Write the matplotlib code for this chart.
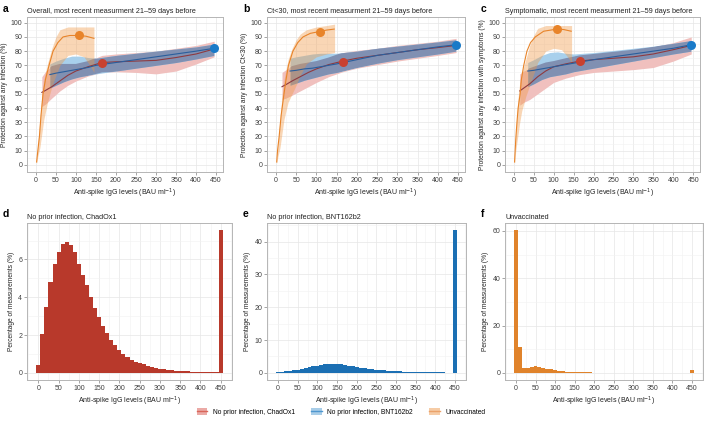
import numpy as np
import matplotlib.pyplot as plt
from matplotlib.patches import Patch
from matplotlib.lines import Line2D
from matplotlib.ticker import MultipleLocator

plt.rcParams['font.family'] = ['Liberation Sans', 'DejaVu Sans']

W, H = 705, 425

# ---- top panels: protection curves (x = anti-spike IgG, y = protection %) ----
# a: overall
a_or_x = [2, 5, 9, 13, 18, 24, 33, 43, 55, 68, 85, 106, 125, 145]
a_or_y = [2, 10, 20, 35, 50, 60, 70, 80, 86, 90, 91, 91, 90.5, 89]
a_orb_x = [2, 5, 10, 15, 20, 30, 40, 50, 60, 80, 100, 120, 135, 145]
a_orb_hi = [3, 14, 32, 48, 60, 72, 82, 90, 95, 97, 97, 97, 97, 97]
a_orb_lo = [1, 6, 12, 22, 32, 45, 55, 63, 70, 77, 78, 76, 70, 65]
a_rd_x = [15, 25, 40, 60, 80, 100, 130, 165, 200, 250, 300, 350, 400, 445]
a_rd_y = [51, 52.5, 55, 59, 63, 66, 69, 72, 72.5, 73, 73.5, 75.5, 78, 81.5]
a_rd_hi = [62, 66, 69.5, 71, 71, 71, 73, 77, 78, 79, 80, 82, 84, 87]
a_rd_lo = [41, 43, 47, 52, 56, 59, 62.5, 65, 65.5, 65, 64, 66, 71, 76]
a_bl_x = [35, 50, 70, 90, 110, 130, 150, 200, 250, 300, 350, 400, 445]
a_bl_y = [63.5, 64.5, 65.5, 66.5, 67.5, 68.5, 70, 72, 74, 76, 78, 80, 82]
a_bl_hi = [71, 73, 75, 76.5, 76.5, 75.5, 75, 77, 78.5, 80, 81.5, 83, 85]
a_bl_lo = [54, 56, 58.5, 60.5, 62, 63, 64, 66, 68, 70, 72, 74.5, 77]
a_dots = [(108, 91), (165, 72), (445, 82)]

# b: Ct<30
b_or_x = [2, 4, 8, 13, 20, 25, 31, 42, 54, 67, 85, 108, 125, 144]
b_or_y = [2, 10, 20, 35, 50, 60, 70, 80, 86, 90, 92.5, 93.8, 94.8, 95.5]
b_orb_x = [2, 5, 10, 15, 20, 30, 40, 50, 60, 75, 100, 125, 145]
b_orb_hi = [3, 14, 32, 48, 60, 74, 82, 88, 92, 95, 97, 98, 99]
b_orb_lo = [1, 6, 12, 22, 32, 44, 50, 56, 63, 71, 76, 78, 79]
b_rd_x = [15, 25, 40, 60, 80, 100, 130, 165, 200, 250, 300, 350, 400, 445]
b_rd_y = [55, 56.5, 59, 62, 65, 67.5, 70.5, 73, 75, 77, 79, 81, 82.5, 84]
b_rd_hi = [65, 67, 69.5, 71, 72, 73, 75.5, 79, 80.5, 82, 84, 85.5, 87, 89]
b_rd_lo = [46, 47, 49, 52, 55, 58, 62, 65.5, 68, 70.5, 73, 75, 77, 79]
b_bl_x = [35, 50, 70, 90, 110, 130, 150, 200, 250, 300, 350, 400, 445]
b_bl_y = [66, 66.5, 67.5, 68, 69, 70, 71, 74, 77, 79, 81, 83, 84.5]
b_bl_hi = [75, 76, 77, 78, 78.5, 78.5, 78.5, 80, 82, 83.5, 85, 86.5, 88]
b_bl_lo = [56, 57.5, 59.5, 61, 62.5, 64, 65, 68.5, 71.5, 74, 76, 78, 80]
b_dots = [(108, 93.8), (165, 72.7), (445, 84.5)]

# c: symptomatic
c_or_x = [2, 5, 8, 11, 16, 19, 25, 33, 42, 54, 75, 108, 125, 144]
c_or_y = [2, 18, 30, 40, 50, 60, 70, 80, 86, 90, 94, 95.5, 95.2, 94]
c_orb_x = [2, 5, 10, 15, 20, 30, 40, 50, 60, 80, 100, 120, 135, 145]
c_orb_hi = [3, 22, 45, 58, 64, 74, 84, 91, 96, 98, 98, 98, 98, 98]
c_orb_lo = [1, 10, 20, 30, 38, 48, 56, 64, 72, 80, 82, 81, 76, 72]
c_rd_x = [15, 25, 40, 60, 80, 100, 130, 165, 200, 250, 300, 350, 400, 445]
c_rd_y = [52, 54, 57, 62, 66, 69, 71, 73, 74, 75, 76, 78, 81, 84]
c_rd_hi = [64, 66, 68, 70, 72, 73, 75, 77, 78, 79.5, 81, 83, 86, 90]
c_rd_lo = [42, 44, 46, 50, 54, 58, 61, 63.5, 65, 66, 67, 68.5, 73, 78]
c_bl_x = [35, 50, 70, 90, 110, 130, 150, 200, 250, 300, 350, 400, 445]
c_bl_y = [66, 66.5, 67.5, 68.5, 69.5, 70.5, 71.5, 74, 76, 78, 80, 82, 84.5]
c_bl_hi = [72, 74, 77, 79, 79.5, 78.5, 78, 79, 80.5, 82, 83.5, 85.5, 87.5]
c_bl_lo = [55, 57, 60, 62, 63, 64, 65.5, 68, 70.5, 73, 75.5, 78, 80]
c_dots = [(108, 95.5), (165, 73), (445, 84.5)]

# ---- bottom panels: histograms (bin centres every 10, last bin = 450) ----
bins = list(range(0, 460, 10))
d_pct = [0.4, 2.05, 3.5, 4.8, 5.75, 6.4, 6.8, 6.93, 6.75, 6.4, 5.75, 5.2, 4.65, 4.0,
         3.45, 2.95, 2.5, 2.1, 1.75, 1.45, 1.2, 1.0, 0.85, 0.7, 0.6, 0.5, 0.45, 0.38,
         0.32, 0.27, 0.23, 0.2, 0.17, 0.14, 0.12, 0.1, 0.09, 0.08, 0.07, 0.06, 0.05,
         0.045, 0.04, 0.035, 0.03, 7.55]
e_pct = [0.2, 0.3, 0.45, 0.6, 0.8, 1.0, 1.25, 1.5, 1.75, 2.0, 2.2, 2.4, 2.55, 2.7,
         2.8, 2.75, 2.6, 2.4, 2.2, 2.0, 1.8, 1.6, 1.4, 1.25, 1.1, 0.95, 0.85, 0.75,
         0.65, 0.55, 0.5, 0.45, 0.4, 0.35, 0.3, 0.28, 0.25, 0.22, 0.2, 0.18, 0.16,
         0.14, 0.12, 0.1, 0.08, 43.5]
f_pct = [60.3, 11.0, 2.2, 2.0, 2.6, 2.7, 2.6, 2.2, 1.8, 1.5, 1.1, 0.9, 0.7, 0.55,
         0.45, 0.35, 0.3, 0.25, 0.2, 0.17, 0.15, 0.13, 0.11, 0.1, 0.09, 0.08, 0.07,
         0.06, 0.05, 0.05, 0.04, 0.04, 0.03, 0.03, 0.03, 0.02, 0.02, 0.02, 0.02, 0.02,
         0.02, 0.02, 0.02, 0.02, 0.02, 1.3]

pink, light_blue, slate, orange_band = '#f0c0be', '#a8d0ec', '#8090b2', '#f09a48'
red_line, blue_line, orange_line = '#8e3a40', '#2a5e9c', '#e8842a'
red_dot, blue_dot = '#c8412f', '#1a7ac8'
d_col, e_col, f_col = '#b8392b', '#1b6fb3', '#e0832b'


def px_axes(l, t, r, b):
    return fig.add_axes([l / W, 1 - b / H, (r - l) / W, (b - t) / H])


def style(ax):
    for s in ax.spines.values():
        s.set_color('#b5b5b5')
        s.set_linewidth(0.7)
    ax.grid(True, which='major', color='#e6e6e6', linewidth=0.5)
    ax.grid(True, which='minor', color='#f2f2f2', linewidth=0.4)
    ax.set_axisbelow(True)
    ax.tick_params(which='major', length=2, width=0.5, color='#808080',
                   labelsize=5, labelcolor='#404040', pad=1.5)
    ax.tick_params(which='minor', length=0)


fig = plt.figure(figsize=(W / 100, H / 100), dpi=100)

tops = [
    ('a', 27, 223, 'Overall, most recent measurment 21\u201359 days before',
     'Protection against any infection (%)',
     (a_or_x, a_or_y, a_orb_x, a_orb_hi, a_orb_lo, a_rd_x, a_rd_y, a_rd_hi, a_rd_lo,
      a_bl_x, a_bl_y, a_bl_hi, a_bl_lo, a_dots)),
    ('b', 267, 465, 'Ct<30, most recent measurment 21\u201359 days before',
     'Protection against any infection Ct<30 (%)',
     (b_or_x, b_or_y, b_orb_x, b_orb_hi, b_orb_lo, b_rd_x, b_rd_y, b_rd_hi, b_rd_lo,
      b_bl_x, b_bl_y, b_bl_hi, b_bl_lo, b_dots)),
    ('c', 505, 700, 'Symptomatic, most recent measurment 21\u201359 days before',
     'Protection against any infection with symptoms (%)',
     (c_or_x, c_or_y, c_orb_x, c_orb_hi, c_orb_lo, c_rd_x, c_rd_y, c_rd_hi, c_rd_lo,
      c_bl_x, c_bl_y, c_bl_hi, c_bl_lo, c_dots)),
]

for letter, l, r, title, ylab, data in tops:
    (or_x, or_y, orb_x, orb_hi, orb_lo, rd_x, rd_y, rd_hi, rd_lo,
     bl_x, bl_y, bl_hi, bl_lo, dots) = data
    ax = px_axes(l, 17, r, 172)
    style(ax)
    red_poly = ax.fill_between(rd_x, rd_lo, rd_hi, color=pink, lw=0)
    ax.fill_between(bl_x, bl_lo, bl_hi, color=light_blue, lw=0)
    # where the two ribbons overlap the colours mix to a slate tone
    over = ax.fill_between(bl_x, bl_lo, bl_hi, color=slate, lw=0)
    over.set_clip_path(red_poly.get_paths()[0], ax.transData)
    ax.fill_between(orb_x, orb_lo, orb_hi, color=orange_band, alpha=0.4, lw=0)
    ax.plot(rd_x, rd_y, color=red_line, lw=0.8)
    ax.plot(bl_x, bl_y, color=blue_line, lw=0.8)
    ax.plot(or_x, or_y, color=orange_line, lw=0.8)
    ax.plot(*dots[0], 'o', color=orange_line, ms=6.5, mec='none')
    ax.plot(*dots[1], 'o', color=red_dot, ms=6.5, mec='none')
    ax.plot(*dots[2], 'o', color=blue_dot, ms=6.5, mec='none')
    ax.set_xlim(-22, 467)
    ax.set_ylim(-5, 104)
    ax.xaxis.set_major_locator(MultipleLocator(50))
    ax.xaxis.set_minor_locator(MultipleLocator(25))
    ax.yaxis.set_major_locator(MultipleLocator(10))
    ax.yaxis.set_minor_locator(MultipleLocator(5))
    ax.set_title(title, loc='left', fontsize=5.2, pad=3, color='#222222')
    ax.set_ylabel(ylab, fontsize=4.8, labelpad=2, color='#222222')
    ax.set_xlabel('Anti-spike IgG levels (BAU ml$^{-1}$)', fontsize=5, labelpad=2,
                  color='#222222')
    fig.text((l - 24) / W, 1 - 9 / H, letter, fontsize=7.5, fontweight='bold',
             va='center', ha='left')

bottoms = [
    ('d', 27, 232, 'No prior infection, ChadOx1', d_pct, d_col, 2),
    ('e', 267, 466, 'No prior infection, BNT162b2', e_pct, e_col, 10),
    ('f', 505, 703, 'Unvaccinated', f_pct, f_col, 20),
]

for letter, l, r, title, pct, col, step in bottoms:
    ax = px_axes(l, 223, r, 380)
    style(ax)
    ax.bar(bins, pct, width=10, color=col, lw=0)
    top = max(pct)
    ax.set_ylim(-0.05 * top, 1.05 * top)
    ax.set_xlim(-28, 478)
    ax.xaxis.set_major_locator(MultipleLocator(50))
    ax.xaxis.set_minor_locator(MultipleLocator(25))
    ax.yaxis.set_major_locator(MultipleLocator(step))
    ax.yaxis.set_minor_locator(MultipleLocator(step / 2))
    ax.set_title(title, loc='left', fontsize=5.2, pad=3, color='#222222')
    ax.set_ylabel('Percentage of measurements (%)', fontsize=4.8, labelpad=2,
                  color='#222222')
    ax.set_xlabel('Anti-spike IgG levels (BAU ml$^{-1}$)', fontsize=5, labelpad=2,
                  color='#222222')
    fig.text((l - 24) / W, 1 - 214 / H, letter, fontsize=7.5, fontweight='bold',
             va='center', ha='left')

handles = [
    (Patch(facecolor='#ebaaa6', lw=0), Line2D([], [], color='#d9665a', lw=1)),
    (Patch(facecolor='#a8cde8', lw=0), Line2D([], [], color='#4f97cf', lw=1)),
    (Patch(facecolor='#f6cca6', lw=0), Line2D([], [], color='#eba26a', lw=1)),
]
fig.legend(handles, ['No prior infection, ChadOx1', 'No prior infection, BNT162b2',
                     'Unvaccinated'],
           loc='center', bbox_to_anchor=(341 / W, 1 - 412 / H), ncol=3,
           frameon=False, fontsize=4.8, handlelength=1.6, handleheight=1.2,
           columnspacing=2.5, handletextpad=0.8)

fig.savefig('out.png', dpi=100)
